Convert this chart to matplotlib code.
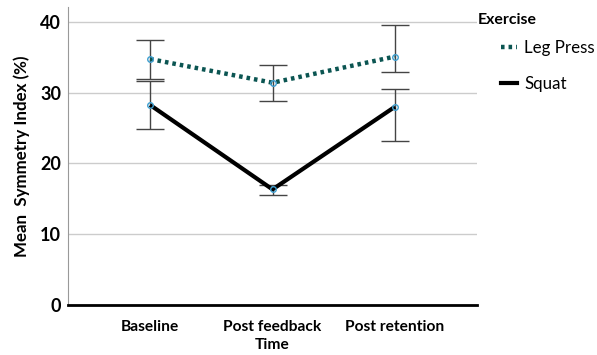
import numpy as np
import matplotlib
matplotlib.use("Agg")
import matplotlib.pyplot as plt
from matplotlib.lines import Line2D

plt.rcParams["font.family"] = ["Lato", "DejaVu Sans"]

times = ["Baseline", "Post feedback", "Post retention"]
leg_press = [34.75, 31.4, 35.1]
leg_press_hi = [37.4, 33.9, 39.6]
leg_press_lo = [31.9, 28.85, 32.95]
squat = [28.25, 16.3, 28.0]
squat_hi = [31.7, 16.9, 30.45]
squat_lo = [24.8, 15.5, 23.1]

teal = "#0b5552"
marker_edge = "#3e9fd0"

fig = plt.figure(figsize=(5.97, 3.55), dpi=100)
ax = fig.add_axes([0.114, 0.142, 0.685, 0.838])

x = np.arange(len(times))


def draw_series(vals, lo, hi, color, ls, lw):
    vals = np.array(vals)
    err = [vals - np.array(lo), np.array(hi) - vals]
    ax.errorbar(x, vals, yerr=err, fmt="none", ecolor="#444444",
                elinewidth=1.0, capsize=10, capthick=1.0, zorder=2)
    ax.plot(x, vals, color=color, linestyle=ls, linewidth=lw, zorder=3,
            solid_capstyle="butt")
    ax.plot(x, vals, linestyle="none", marker="o", markersize=4,
            markerfacecolor="none", markeredgecolor=marker_edge,
            markeredgewidth=1.0, zorder=4)


draw_series(leg_press, leg_press_lo, leg_press_hi, teal, (0, (0.8, 0.9)), 3.2)
draw_series(squat, squat_lo, squat_hi, "black", "-", 3.0)

ax.set_xlim(-0.67, 2.67)
ax.set_ylim(0, 42.1)
ax.set_yticks([0, 10, 20, 30, 40])
ax.set_xticks(x)
ax.set_xticklabels(times, fontsize=11.2, fontweight="bold")
ax.tick_params(axis="y", labelsize=13, length=0, pad=5)
for lbl in ax.get_yticklabels():
    lbl.set_fontweight("bold")
ax.tick_params(axis="x", length=0, pad=11)
ax.grid(axis="y", color="#cccccc", linewidth=1.0)
ax.set_axisbelow(True)

ax.spines["top"].set_visible(False)
ax.spines["right"].set_visible(False)
ax.spines["left"].set_color("#999999")
ax.spines["bottom"].set_color("black")
ax.spines["bottom"].set_linewidth(2.0)

ax.set_ylabel("Mean  Symmetry Index (%)", fontsize=12.2, fontweight="bold", labelpad=7)
ax.set_xlabel("Time", fontsize=11.2, fontweight="bold", labelpad=3)

handles = [
    Line2D([], [], color=teal, linestyle=(0, (0.8, 0.9)), linewidth=3.2),
    Line2D([], [], color="black", linestyle="-", linewidth=3.0),
]
leg = fig.legend(handles, ["Leg Press", "Squat"], loc="upper left",
                 bbox_to_anchor=(0.814, 0.93), frameon=False, fontsize=12.2,
                 handlelength=0.95, handletextpad=0.4, labelspacing=1.15)
fig.text(0.801, 0.943, "Exercise", fontsize=11.4, fontweight="bold",
         ha="left", va="center")

fig.savefig("out.png", dpi=100)
